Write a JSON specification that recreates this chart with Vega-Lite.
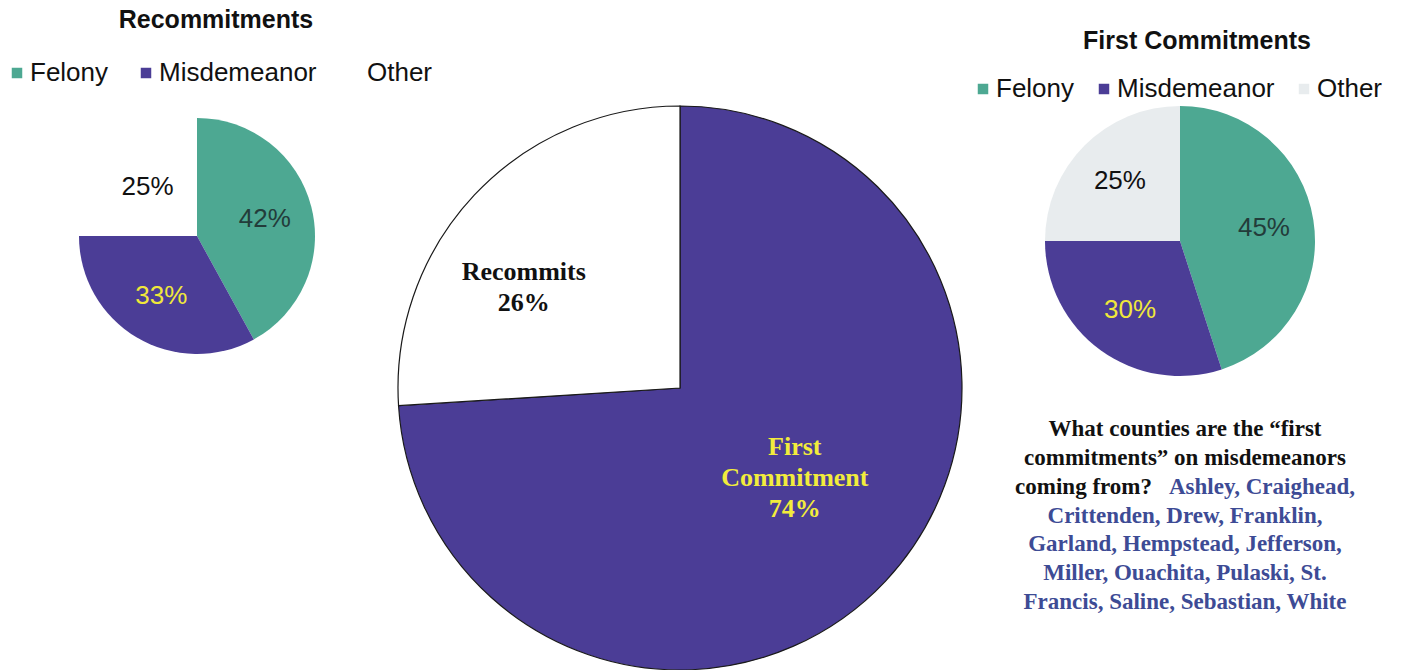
{
  "$schema": "https://vega.github.io/schema/vega-lite/v6.json",
  "padding": {"left": 4, "top": 8, "right": 0, "bottom": 0},
  "background": "white",
  "config": {"view": {"stroke": null}, "font": "Liberation Sans"},
  "datasets": {
    "recommit": [
      {"category": "Felony", "share": 0.42},
      {"category": "Misdemeanor", "share": 0.33},
      {"category": "Other", "share": 0.25}
    ],
    "overall": [
      {"group": "First Commitment", "share": 0.74, "label": "First\nCommitment\n74%"},
      {"group": "Recommits", "share": 0.26, "label": "Recommits\n26%"}
    ],
    "first": [
      {"category": "Felony", "share": 0.45},
      {"category": "Misdemeanor", "share": 0.30},
      {"category": "Other", "share": 0.25}
    ],
    "counties": [
      {"line": 1, "seg": "whole", "kind": "question", "text": "What counties are the “first"},
      {"line": 2, "seg": "whole", "kind": "question", "text": "commitments” on misdemeanors"},
      {"line": 3, "seg": "lead", "kind": "question", "text": "coming from?"},
      {"line": 3, "seg": "tail", "kind": "counties", "text": "Ashley, Craighead,"},
      {"line": 4, "seg": "whole", "kind": "counties", "text": "Crittenden, Drew, Franklin,"},
      {"line": 5, "seg": "whole", "kind": "counties", "text": "Garland, Hempstead, Jefferson,"},
      {"line": 6, "seg": "whole", "kind": "counties", "text": "Miller, Ouachita, Pulaski, St."},
      {"line": 7, "seg": "whole", "kind": "counties", "text": "Francis, Saline, Sebastian, White"}
    ]
  },
  "bounds": "flush",
  "spacing": 8,
  "resolve": {
    "scale": {"color": "independent", "fill": "independent", "theta": "independent", "y": "independent"},
    "legend": {"color": "independent"}
  },
  "hconcat": [
    {
      "width": 386,
      "height": 260,
      "title": {"text": "Recommitments", "fontSize": 25, "font": "Liberation Sans", "fontWeight": "bold", "color": "#111111", "anchor": "middle", "offset": 27, "dx": 19},
      "data": {"name": "recommit"},
      "encoding": {
        "theta": {"field": "share", "type": "quantitative", "stack": true},
        "order": {"field": "category", "type": "ordinal"}
      },
      "layer": [
        {
          "mark": {"type": "arc", "radius": 118},
          "encoding": {
            "color": {
              "field": "category", "type": "nominal",
              "scale": {"domain": ["Felony", "Misdemeanor", "Other"], "range": ["#4da892", "#4b3d96", "#ffffff"]},
              "legend": {"orient": "top", "title": null, "direction": "horizontal", "symbolType": "square", "symbolSize": 110, "symbolStrokeWidth": 0, "labelFontSize": 26, "labelFont": "Liberation Sans", "labelColor": "#111111", "labelLimit": 300, "columnPadding": 24, "labelOffset": 0, "offset": 20}
            }
          }
        },
        {
          "mark": {"type": "text", "radius": 70, "fontSize": 26, "font": "Liberation Sans"},
          "encoding": {
            "text": {"field": "share", "type": "quantitative", "format": ".0%"},
            "fill": {
              "field": "category", "type": "nominal",
              "scale": {"domain": ["Felony", "Misdemeanor", "Other"], "range": ["#233c3a", "#f0e83a", "#111111"]},
              "legend": null
            }
          }
        }
      ]
    },
    {
      "width": 564,
      "height": 564,
      "data": {"name": "overall"},
      "encoding": {
        "theta": {"field": "share", "type": "quantitative", "stack": true},
        "order": {"field": "group", "type": "ordinal"}
      },
      "layer": [
        {
          "mark": {"type": "arc", "radius": 282, "stroke": "#1a1a1a", "strokeWidth": 1.2},
          "encoding": {
            "color": {
              "field": "group", "type": "nominal",
              "scale": {"domain": ["First Commitment", "Recommits"], "range": ["#4b3d96", "#ffffff"]},
              "legend": null
            }
          }
        },
        {
          "mark": {"type": "text", "radius": 180, "dx": -25, "dy": 7, "lineBreak": "\n", "font": "Liberation Serif", "fontWeight": "bold", "fontSize": 26, "lineHeight": 31, "fill": "#111111"},
          "encoding": {
            "text": {"condition": {"test": "datum.group === 'Recommits'", "field": "label"}, "value": ""}
          }
        },
        {
          "mark": {"type": "text", "radius": 152, "dx": 4, "dy": -45, "lineBreak": "\n", "font": "Liberation Serif", "fontWeight": "bold", "fontSize": 26, "lineHeight": 31, "fill": "#f2ec3c"},
          "encoding": {
            "text": {"condition": {"test": "datum.group === 'First Commitment'", "field": "label"}, "value": ""}
          }
        }
      ]
    },
    {
      "bounds": "flush",
      "spacing": 39,
      "resolve": {
        "scale": {"color": "independent", "fill": "independent", "theta": "independent", "y": "independent"},
        "legend": {"color": "independent"}
      },
      "vconcat": [
        {
          "width": 420,
          "height": 270,
          "title": {"text": "First Commitments", "fontSize": 25, "font": "Liberation Sans", "fontWeight": "bold", "color": "#111111", "anchor": "middle", "offset": 22, "dx": 17},
          "data": {"name": "first"},
          "encoding": {
            "theta": {"field": "share", "type": "quantitative", "stack": true},
            "order": {"field": "category", "type": "ordinal"}
          },
          "layer": [
            {
              "mark": {"type": "arc", "radius": 135},
              "encoding": {
                "color": {
                  "field": "category", "type": "nominal",
                  "scale": {"domain": ["Felony", "Misdemeanor", "Other"], "range": ["#4da892", "#4b3d96", "#e8ecee"]},
                  "legend": {"orient": "top", "title": null, "direction": "horizontal", "symbolType": "square", "symbolSize": 110, "symbolStrokeWidth": 0, "labelFontSize": 26, "labelFont": "Liberation Sans", "labelColor": "#111111", "labelLimit": 300, "columnPadding": 16, "labelOffset": 0, "offset": 4}
                }
              }
            },
            {
              "mark": {"type": "text", "radius": 85, "fontSize": 26, "font": "Liberation Sans"},
              "encoding": {
                "text": {"field": "share", "type": "quantitative", "format": ".0%"},
                "fill": {
                  "field": "category", "type": "nominal",
                  "scale": {"domain": ["Felony", "Misdemeanor", "Other"], "range": ["#233c3a", "#f0e83a", "#111111"]},
                  "legend": null
                }
              }
            }
          ]
        },
        {
          "width": 420,
          "height": 201,
          "data": {"name": "counties"},
          "encoding": {
            "y": {"field": "line", "type": "ordinal", "axis": null},
            "text": {"field": "text", "type": "nominal"},
            "color": {
              "field": "kind", "type": "nominal",
              "scale": {"domain": ["question", "counties"], "range": ["#111111", "#3d4b95"]},
              "legend": null
            }
          },
          "layer": [
            {
              "transform": [{"filter": "datum.seg === 'whole'"}],
              "mark": {"type": "text", "font": "Liberation Serif", "fontWeight": "bold", "fontSize": 23, "dx": 5}
            },
            {
              "transform": [{"filter": "datum.seg === 'lead'"}],
              "mark": {"type": "text", "font": "Liberation Serif", "fontWeight": "bold", "fontSize": 23, "align": "right", "dx": -28}
            },
            {
              "transform": [{"filter": "datum.seg === 'tail'"}],
              "mark": {"type": "text", "font": "Liberation Serif", "fontWeight": "bold", "fontSize": 23, "align": "left", "dx": -11}
            }
          ]
        }
      ]
    }
  ]
}
